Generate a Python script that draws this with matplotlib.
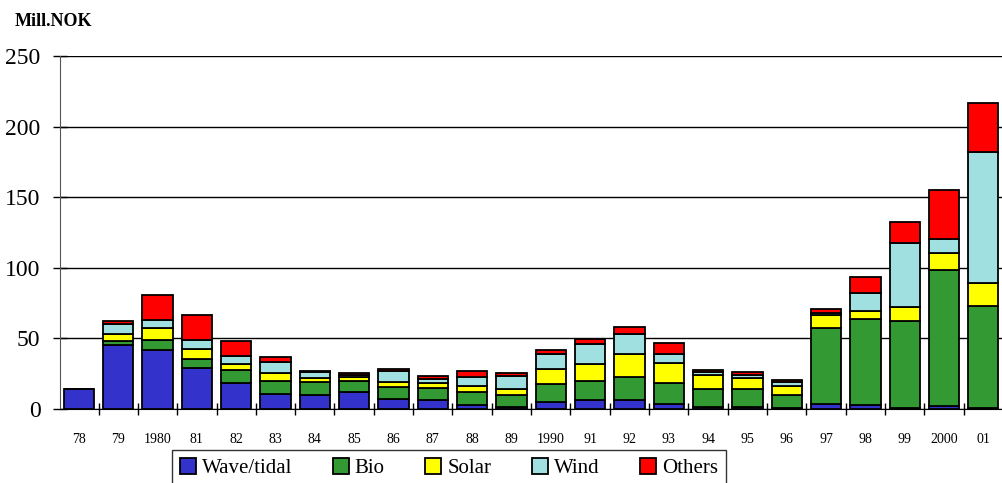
import matplotlib
matplotlib.use('Agg')
import matplotlib.pyplot as plt
import numpy as np

# Support for new renewable energy, million NOK per year
years = ['78', '79', '1980', '81', '82', '83', '84', '85', '86', '87', '88', '89',
         '1990', '91', '92', '93', '94', '95', '96', '97', '98', '99', '2000', '01']
wave = [14, 45, 41.6, 28.8, 18.2, 10.9, 10.2, 12.0, 7.0, 6.2, 3.0, 1.6,
        4.9, 6.4, 6.4, 3.3, 1.6, 1.6, 0.5, 3.5, 2.6, 0.8, 2.1, 0.8]
bio = [0, 3.5, 7.0, 6.9, 9.2, 8.9, 8.7, 7.5, 8.7, 8.8, 9.0, 8.1,
       12.8, 13.4, 16.2, 15.1, 12.4, 12.4, 9.4, 54.2, 61.3, 61.7, 96.6, 72.4]
solar = [0, 4.3, 9.0, 6.8, 4.7, 6.0, 3.3, 3.3, 3.3, 3.3, 4.0, 4.7,
         10.5, 12.3, 16.6, 14.4, 10.2, 7.9, 6.6, 8.7, 5.7, 9.4, 12.1, 16.3]
wind = [0, 7.6, 5.7, 6.1, 5.2, 7.8, 4.0, 1.4, 8.0, 2.7, 6.6, 8.9,
        11.0, 14.2, 13.7, 6.4, 1.8, 2.2, 2.9, 1.9, 12.9, 46.0, 9.5, 92.2]
others = [0, 1.8, 17.4, 18.0, 10.6, 3.2, 1.0, 1.0, 1.0, 2.3, 4.6, 2.3,
          2.4, 3.6, 5.4, 7.4, 1.6, 1.9, 0.8, 2.3, 10.9, 14.6, 34.8, 35.2]

series = [('Wave/tidal', wave, '#3333CC'),
          ('Bio', bio, '#339933'),
          ('Solar', solar, '#FFFF00'),
          ('Wind', wind, '#A0E0E0'),
          ('Others', others, '#FF0000')]

plt.rcParams['font.family'] = ['Liberation Serif', 'DejaVu Serif']

fig = plt.figure(figsize=(10.03, 4.83), dpi=100)
ax = fig.add_axes([60 / 1003, 1 - 409 / 483, 943 / 1003, 353 / 483])

x = np.arange(len(years))
bottom = np.zeros(len(years))
handles = []
for name, vals, col in series:
    vals = np.array(vals)
    h = ax.bar(x, vals, 0.77, bottom=bottom, color=col, edgecolor='black',
               linewidth=1.3, label=name, zorder=3)
    handles.append(h)
    bottom += vals

ax.set_ylim(0, 250)
ax.set_xlim(-0.48, 23.46)
ax.set_yticks([0, 50, 100, 150, 200, 250])
ax.yaxis.grid(True, color='black', linewidth=1.0, zorder=0)
ax.set_xticks(x)
ax.set_xticklabels(years, fontsize=10)
ax.set_xticks(np.arange(len(years)) + 0.5, minor=True)
ax.tick_params(axis='x', which='major', length=0, pad=17)
ax.tick_params(axis='x', which='minor', direction='inout', length=9, width=1)
ax.tick_params(axis='y', direction='inout', length=10, width=1, labelsize=17, pad=9)

for s in ['top', 'right']:
    ax.spines[s].set_visible(False)
ax.spines['left'].set_color('#555555')
ax.spines['bottom'].set_color('black')

fig.text(15 / 1003, 1 - 21 / 483, 'Mill.NOK', fontsize=13, fontweight='bold',
         va='center', ha='left')

leg = fig.legend(handles=handles, loc='upper center', ncol=5,
                 bbox_to_anchor=(449 / 1003, 1 - 450 / 483), fontsize=15,
                 frameon=True, fancybox=False, edgecolor='black',
                 handlelength=0.75, handleheight=0.75, handletextpad=0.3,
                 columnspacing=1.95, borderpad=0.4, borderaxespad=0)
leg.get_frame().set_linewidth(1.0)

fig.savefig('out.png', dpi=100)
